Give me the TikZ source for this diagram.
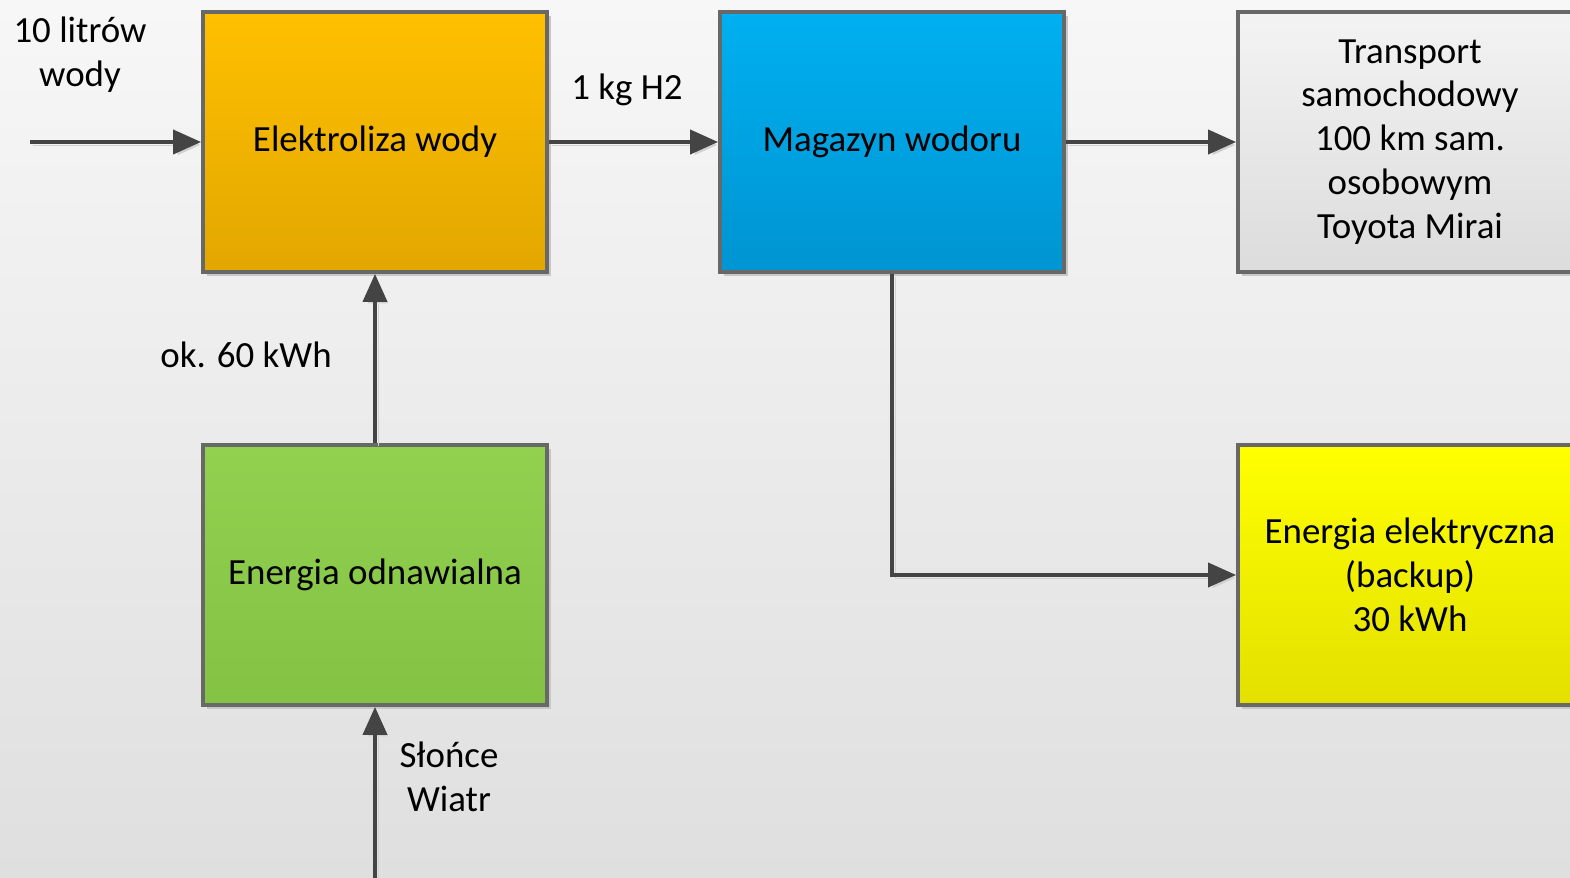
\documentclass[tikz,border=0pt]{standalone}
\usepackage{fontspec}
\setmainfont{Carlito}
\usepackage{xcolor}
\usepackage{tikz}
\usetikzlibrary{arrows.meta, positioning, shadows}

\definecolor{bgtop}{HTML}{F7F7F7}
\definecolor{bgbot}{HTML}{DFDFDF}
\definecolor{boxline}{HTML}{686868}
\definecolor{flowline}{HTML}{444444}
\definecolor{orangetop}{HTML}{FFC000}
\definecolor{orangebot}{HTML}{E2A700}
\definecolor{bluetop}{HTML}{00B0F0}
\definecolor{bluebot}{HTML}{0094D2}
\definecolor{graytop}{HTML}{F3F3F3}
\definecolor{graybot}{HTML}{DCDCDC}
\definecolor{greentop}{HTML}{92D050}
\definecolor{greenbot}{HTML}{84C244}
\definecolor{yellowtop}{HTML}{FFFF00}
\definecolor{yellowbot}{HTML}{E3E000}

\begin{document}
\begin{tikzpicture}[
    x=0.02cm, y=-0.02cm,
    every node/.style={font=\fontsize{21}{25}\selectfont, align=center, text=black},
    flow/.style={-{Triangle[length=0.56cm, width=0.48cm]}, line width=2.2pt, draw=flowline,
      preaction={draw=black!18, transform canvas={shift={(0.06cm,-0.06cm)}}}},
    procbox/.style={
      rectangle, draw=boxline, line width=2.2pt,
      minimum width=6.88cm, minimum height=5.2cm, inner sep=4pt,
      drop shadow={shadow xshift=0.08cm, shadow yshift=-0.08cm, fill=black!22, opacity=1}
    },
    elekbox/.style={procbox, top color=orangetop, bottom color=orangebot},
    magbox/.style={procbox, top color=bluetop, bottom color=bluebot},
    transbox/.style={procbox, top color=graytop, bottom color=graybot},
    ozebox/.style={procbox, top color=greentop, bottom color=greenbot},
    backupbox/.style={procbox, top color=yellowtop, bottom color=yellowbot},
    lbl/.style={inner sep=1pt}
  ]

    % Background
    \clip (0,0) rectangle (1570,878);
    \fill[top color=bgtop, bottom color=bgbot] (0,0) rectangle (1570,878);

    % Top row
    \node[elekbox]  (elek)  at (375,142)  {Elektroliza wody};
    \node[magbox]   (mag)   at (892,142)  {Magazyn wodoru};
    \node[transbox] (trans) at (1410,142) {Transport\\samochodowy\\100 km sam.\\osobowym\\Toyota Mirai};

    % Bottom row
    \node[ozebox]    (oze)    at (375,575)  {Energia odnawialna};
    \node[backupbox] (backup) at (1410,575) {Energia elektryczna\\(backup)\\30 kWh};

    % Free ends
    \coordinate (wodaIn) at (30,142);
    \coordinate (sunIn)  at (375,878);

    % Connectors
    \draw[flow] (wodaIn) -- (elek.west);
    \draw[flow] (elek.east) -- (mag.west);
    \draw[flow] (mag.east) -- (trans.west);
    \draw[flow] (oze.north) -- (elek.south);
    \draw[flow] (sunIn) -- (oze.south);
    \draw[flow] (mag.south) |- (backup.west);

    % Labels
    \node[lbl] (wodaLbl)  at (80,55)   {10 litrów\\wody};
    \node[lbl] (h2Lbl)    at (627,90)  {1 kg H2};
    \node[lbl] (kwhLbl)   at (246,355) {ok. 60 kWh};
    \node[lbl] (wiatrLbl) at (449,777) {Słońce\\Wiatr};

\end{tikzpicture}
\end{document}
